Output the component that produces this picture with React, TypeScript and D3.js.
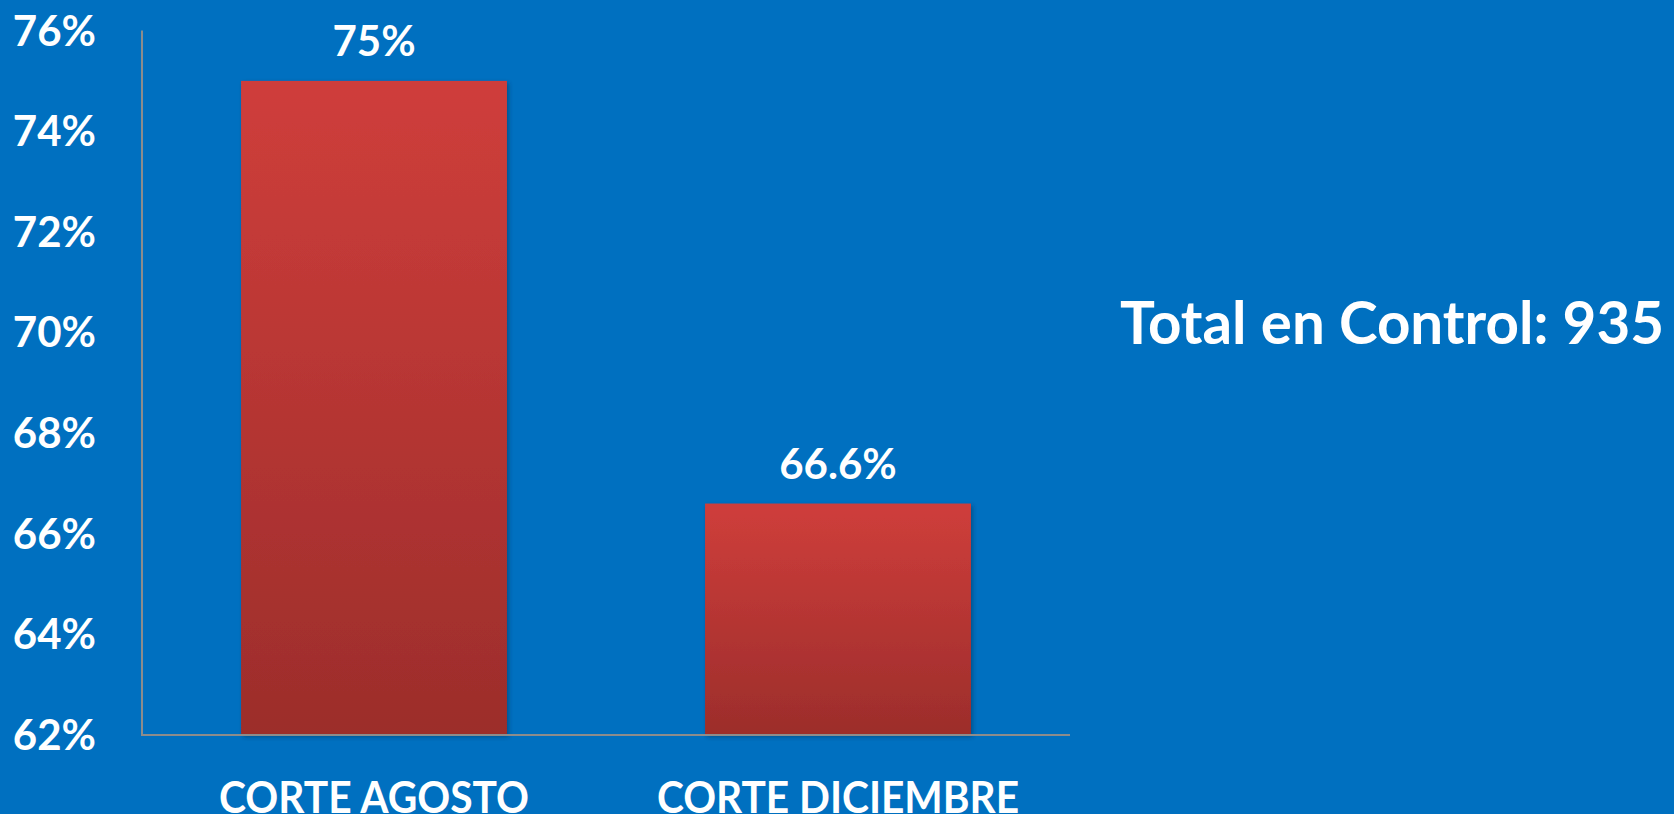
import React from "react";
import * as d3 from "d3";

const categories = ["CORTE AGOSTO", "CORTE DICIEMBRE"];
const values = [75, 66.6];
const valueLabels = ["75%", "66.6%"];
const yTicks = [62, 64, 66, 68, 70, 72, 74, 76];
const totalText = "Total en Control: 935";

const W = 1674;
const H = 814;
const FONT = "Lato, 'Open Sans', sans-serif";

export default function App() {
  const x = d3
    .scaleBand<string>()
    .domain(categories)
    .range([142, 1070])
    .paddingInner(0.427)
    .paddingOuter(0.2135);
  const y = d3.scaleLinear().domain([62, 76]).range([735, 30.6]);
  const catLen = [310, 362];

  return (
    <div style={{ position: "fixed", left: 0, top: 0, width: W, height: H }}>
      <svg width={W} height={H} style={{ display: "block", background: "#0070C0" }}>
        <defs>
          <linearGradient id="barGrad" x1="0" y1="0" x2="0" y2="1">
            <stop offset="0%" stopColor="#CF3E3B" />
            <stop offset="100%" stopColor="#9C2D2B" />
          </linearGradient>
          <filter id="shadow" x="-10%" y="-10%" width="130%" height="130%">
            <feDropShadow dx="2" dy="2" stdDeviation="2" floodColor="#002a50" floodOpacity="0.45" />
          </filter>
        </defs>
        <rect x={0} y={0} width={W} height={H} fill="#0070C0" />
        {categories.map((c, i) => (
          <rect
            key={c}
            x={x(c)}
            y={y(values[i])}
            width={x.bandwidth()}
            height={y(62) - y(values[i])}
            fill="url(#barGrad)"
            filter="url(#shadow)"
          />
        ))}
        <line x1={142} x2={142} y1={y(76)} y2={y(62)} stroke="#8C8C8C" strokeWidth={2} />
        <line x1={141} x2={1070} y1={y(62)} y2={y(62)} stroke="#8C8C8C" strokeWidth={2} />
        {yTicks.map((t) => (
          <text
            key={t}
            x={96}
            y={y(t) + 15}
            textAnchor="end"
            fill="#fff"
            fontFamily={FONT}
            fontWeight={700}
            fontSize={42}
          >
            {t}%
          </text>
        ))}
        {categories.map((c, i) => (
          <text
            key={"v" + c}
            x={(x(c) as number) + x.bandwidth() / 2}
            y={y(values[i]) - 25}
            textAnchor="middle"
            fill="#fff"
            fontFamily={FONT}
            fontWeight={700}
            fontSize={42}
          >
            {valueLabels[i]}
          </text>
        ))}
        {categories.map((c, i) => (
          <text
            key={"c" + c}
            x={(x(c) as number) + x.bandwidth() / 2}
            y={813}
            textAnchor="middle"
            fill="#fff"
            fontFamily={FONT}
            fontWeight={700}
            fontSize={43}
            textLength={catLen[i]}
            lengthAdjust="spacingAndGlyphs"
          >
            {c}
          </text>
        ))}
        <text
          x={1120}
          y={344}
          fill="#fff"
          fontFamily={FONT}
          fontWeight={700}
          fontSize={59}
          textLength={544}
          lengthAdjust="spacingAndGlyphs"
        >
          {totalText}
        </text>
      </svg>
    </div>
  );
}
